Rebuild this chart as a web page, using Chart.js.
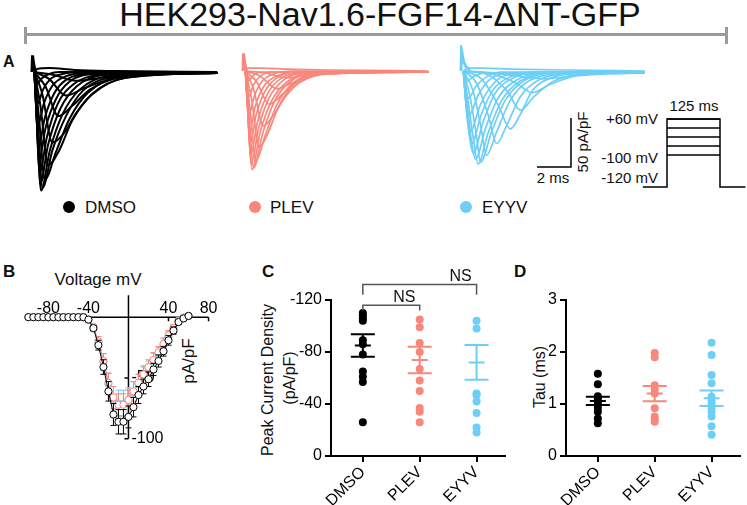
<!DOCTYPE html>
<html>
<head>
<meta charset="utf-8">
<title>HEK293-Nav1.6-FGF14-ΔNT-GFP</title>
<script src="https://cdn.jsdelivr.net/npm/chart.js@4.4.1/dist/chart.umd.min.js"></script>
<style>
  html, body { margin: 0; padding: 0; background: #fff; }
  #fig { position: relative; width: 747px; height: 505px; overflow: hidden; font-family: "Liberation Sans", Arial, sans-serif; color: #111; }
  .box { position: absolute; }
  .txt { position: absolute; white-space: nowrap; line-height: 1; }
  .rot { transform: translate(-50%, -50%) rotate(-90deg); }
  .right { transform: translateX(-100%); }
  .center { transform: translateX(-50%); }
  .dot { position: absolute; width: 12px; height: 12px; border-radius: 50%; }
  .panel { font-weight: bold; font-size: 17px; }
</style>
</head>
<body>
<div id="fig">
  <div class="txt center" style="left:380px;top:-3px;font-size:34px;">HEK293-Nav1.6-FGF14-ΔNT-GFP</div>
  <div class="box" style="left:25px;top:33px;width:702px;height:3px;background:#9a9a9a"></div>
  <div class="box" style="left:24px;top:27px;width:3px;height:17px;background:#9a9a9a"></div>
  <div class="box" style="left:725px;top:27px;width:3px;height:17px;background:#9a9a9a"></div>

  <div class="txt panel" style="left:3px;top:54px;font-size:16px;">A</div>
  <div class="txt panel" style="left:3px;top:263px;">B</div>
  <div class="txt panel" style="left:262px;top:263px;">C</div>
  <div class="txt panel" style="left:514px;top:263px;">D</div>

  <div class="dot" style="left:63px;top:201px;background:#000"></div>
  <div class="txt" style="left:85px;top:199px;font-size:17px;">DMSO</div>
  <div class="dot" style="left:249px;top:201px;background:#F8877C"></div>
  <div class="txt" style="left:270px;top:199px;font-size:17px;">PLEV</div>
  <div class="dot" style="left:460px;top:201px;background:#6DCFF6"></div>
  <div class="txt" style="left:482px;top:199px;font-size:17px;">EYYV</div>

  <div class="txt center" style="left:553px;top:170px;font-size:15px;">2 ms</div>
  <div class="txt rot" style="left:582px;top:142px;font-size:15px;">50 pA/pF</div>

  <div class="txt right" style="left:658px;top:111px;font-size:15px;">+60 mV</div>
  <div class="txt right" style="left:658px;top:150px;font-size:15px;">-100 mV</div>
  <div class="txt right" style="left:658px;top:170px;font-size:15px;">-120 mV</div>
  <div class="txt center" style="left:694px;top:98px;font-size:15px;">125 ms</div>

  <div class="txt center" style="left:98px;top:271px;font-size:17px;">Voltage mV</div>
  <div class="txt rot" style="left:188px;top:361px;font-size:17px;">pA/pF</div>

  <div class="txt rot" style="left:268px;top:380px;font-size:16px;">Peak Current Density</div>
  <div class="txt rot" style="left:290px;top:378px;font-size:16px;">(pA/pF)</div>
  <div class="txt rot" style="left:540px;top:377px;font-size:16px;">Tau (ms)</div>
</div>

<script>
// ---------- panel A: example current traces, [time ms, current pA/pF] ----------
const TRACE_DMSO = [
  [[0.14,0],[1.3,-3],[2.6,-9],[4.0,-6],[6.5,-2],[10.9,-1]],
  [[0.14,0],[1.0,-7],[2.0,-24],[3.0,-17],[4.3,-9],[6.5,-2],[10.9,-1]],
  [[0.14,0],[0.8,-15],[1.55,-45],[2.4,-34],[3.4,-18],[5,-6],[7.5,-1],[10.9,-1]],
  [[0.14,0],[0.6,-22],[1.2,-72],[1.9,-62],[2.6,-42],[3.6,-22],[5.5,-6],[10.9,-1]],
  [[0.14,0],[0.5,-35],[0.95,-95],[1.6,-80],[2.35,-50],[3.5,-23],[5.5,-6],[10.9,-1]],
  [[0.14,0],[0.42,-48],[0.75,-110],[1.4,-82],[2.2,-48],[3.3,-21],[5.2,-5],[10.9,-1]],
  [[0.14,0],[0.36,-55],[0.62,-118],[1.2,-80],[2.0,-45],[3.0,-19],[4.9,-5],[10.9,-1]],
  [[0.14,0],[0.32,-60],[0.53,-121],[1.05,-80],[1.8,-43],[2.8,-18],[4.6,-4],[10.9,-1]],
  [[0.14,0],[0.3,-55],[0.48,-114],[0.95,-74],[1.65,-38],[2.6,-15],[4.3,-3],[10.9,-1]],
  [[0.14,0],[0.28,-50],[0.44,-103],[0.88,-66],[1.5,-33],[2.4,-13],[4.0,-3],[10.9,-1]],
  [[0.14,0],[0.27,-44],[0.41,-90],[0.8,-57],[1.4,-28],[2.2,-10],[3.8,-2],[10.9,-1]],
  [[0.14,0],[0.26,-37],[0.38,-76],[0.75,-47],[1.3,-22],[2.0,-8],[3.5,-2],[10.9,-1]],
  [[0.14,0],[0.25,-26],[0.35,-54],[0.7,-32],[1.2,-14],[1.9,-5],[3.2,-1],[10.9,-1]],
  [[0.14,0],[0.24,-15],[0.33,-32],[0.65,-18],[1.1,-7],[1.8,-2],[3.0,0],[10.9,-1]],
  [[0.14,0],[0.23,-5],[0.31,-12],[0.6,-6],[1.0,-2],[1.6,0],[10.9,-1]],
  [[0.14,0],[0.3,3],[1.0,4],[2.5,2],[5,1],[10.9,0]]
];
const TRACE_PLEV = [
  [[0.14,0],[1.3,-2],[2.6,-7],[3.8,-4],[6,-1],[10.9,-1]],
  [[0.14,0],[1.0,-5],[2.0,-18],[2.9,-12],[4.0,-5],[6,-1],[10.9,-1]],
  [[0.14,0],[0.8,-11],[1.55,-34],[2.3,-24],[3.2,-11],[4.6,-3],[10.9,-1]],
  [[0.14,0],[0.6,-17],[1.2,-56],[1.8,-45],[2.5,-26],[3.4,-11],[5,-3],[10.9,-1]],
  [[0.14,0],[0.5,-28],[0.95,-78],[1.5,-62],[2.1,-36],[3.0,-14],[4.5,-3],[10.9,-1]],
  [[0.14,0],[0.42,-40],[0.75,-92],[1.3,-66],[2.0,-34],[2.9,-13],[4.3,-3],[10.9,-1]],
  [[0.14,0],[0.36,-48],[0.62,-99],[1.15,-64],[1.85,-31],[2.7,-12],[4.1,-2],[10.9,-1]],
  [[0.14,0],[0.32,-50],[0.53,-101],[1.0,-63],[1.7,-30],[2.6,-11],[4.0,-2],[10.9,-1]],
  [[0.14,0],[0.3,-46],[0.48,-95],[0.92,-58],[1.55,-27],[2.4,-9],[3.8,-2],[10.9,-1]],
  [[0.14,0],[0.28,-42],[0.44,-86],[0.85,-52],[1.45,-23],[2.2,-8],[3.6,-2],[10.9,-1]],
  [[0.14,0],[0.27,-36],[0.41,-74],[0.78,-44],[1.35,-19],[2.1,-6],[3.4,-1],[10.9,-1]],
  [[0.14,0],[0.26,-30],[0.38,-62],[0.72,-36],[1.25,-15],[2.0,-5],[3.2,-1],[10.9,-1]],
  [[0.14,0],[0.25,-21],[0.35,-44],[0.68,-25],[1.15,-10],[1.8,-3],[3.0,0],[10.9,-1]],
  [[0.14,0],[0.24,-12],[0.33,-26],[0.62,-14],[1.05,-5],[1.7,-1],[10.9,-1]],
  [[0.14,0],[0.23,-4],[0.31,-10],[0.58,-5],[1.0,-1],[10.9,-1]],
  [[0.14,0],[0.3,3],[1.0,3],[2.5,2],[5,1],[10.9,0]]
];
const TRACE_EYYV = [
  [[0.14,0],[2.0,-2],[5.0,-8],[6.5,-5],[8.5,-2],[10.8,-1]],
  [[0.14,0],[1.8,-3],[3.2,-12],[4.2,-22],[5.2,-14],[6.8,-5],[10.8,-2]],
  [[0.14,0],[1.6,-4],[2.7,-20],[3.5,-40],[4.3,-26],[5.5,-10],[7.5,-3],[10.8,-2]],
  [[0.14,0],[1.2,-8],[2.2,-35],[2.9,-59],[3.5,-44],[4.2,-20],[5.3,-7],[7.5,-2],[10.8,-2]],
  [[0.14,0],[0.9,-12],[1.6,-45],[2.1,-74],[2.7,-55],[3.5,-26],[4.6,-9],[6.5,-3],[10.8,-2]],
  [[0.14,0],[0.7,-20],[1.15,-55],[1.5,-86],[2.1,-62],[2.9,-30],[4.0,-10],[6,-3],[10.8,-1]],
  [[0.14,0],[0.55,-28],[0.9,-65],[1.15,-93],[1.8,-62],[2.6,-30],[3.7,-10],[5.6,-2],[10.8,-1]],
  [[0.14,0],[0.45,-35],[0.75,-72],[1.0,-95],[1.6,-63],[2.4,-30],[3.5,-10],[5.3,-2],[10.8,-1]],
  [[0.14,0],[0.4,-40],[0.65,-76],[0.85,-90],[1.45,-58],[2.2,-27],[3.3,-9],[5,-2],[10.8,-1]],
  [[0.14,0],[0.35,-42],[0.55,-72],[0.72,-84],[1.3,-52],[2.0,-23],[3.1,-7],[4.8,-1],[10.8,-1]],
  [[0.14,0],[0.32,-40],[0.48,-64],[0.62,-74],[1.2,-44],[1.9,-19],[2.9,-6],[4.5,-1],[10.8,-1]],
  [[0.14,0],[0.3,-36],[0.43,-54],[0.55,-62],[1.1,-36],[1.8,-15],[2.8,-4],[10.8,-1]],
  [[0.14,0],[0.28,-28],[0.4,-40],[0.48,-45],[1.0,-25],[1.6,-10],[2.6,-3],[10.8,-1]],
  [[0.14,0],[0.26,-18],[0.36,-25],[0.42,-28],[0.9,-15],[1.5,-6],[2.4,-1],[10.8,-1]],
  [[0.14,0],[0.24,-6],[0.32,-9],[0.38,-10],[0.8,-5],[1.4,-2],[10.8,-1]],
  [[0.14,0],[0.4,3],[1.2,3],[3,2],[6,1],[10.8,0]]
];
// capacitive transient at the start of each sweep
const SPIKE_DMSO = [[0,0],[0.03,17],[0.1,8],[0.2,0]];
const SPIKE_PLEV = [[0,0],[0.03,18],[0.1,8],[0.2,0]];
const SPIKE_EYYV = [[0,0],[0.03,21],[0.15,10],[0.3,4],[0.55,1]];
const SCALE_BAR_MS = 2;
const SCALE_BAR_PA = 50;

// voltage protocol (mV, ms)
const PROTOCOL_HOLD = -120;
const PROTOCOL_STEPS = [-100, -60, -20, 20, 60];
const PROTOCOL_MS = 125;

// ---------- panel B: I-V relationship ----------
const IV_VOLTAGE = [-100,-95,-90,-85,-80,-75,-70,-65,-60,-55,-50,-45,-40,-35,-30,-25,-20,-15,-10,-5,0,5,10,15,20,25,30,35,40,45,50,55,60];
const IV_DMSO = [0,0,0,0,0,0,0,0,0,0,0,0,-2,-9,-23,-41,-61,-80,-86,-86,-82,-74,-64,-57,-51,-43,-36,-28,-19,-11,-4,-1,1];
const IV_DMSO_SEM = [0,0,0,0,0,0,0,0,0,0,0,0,1,2,4,6,8,9,10,10,9,8,7,6,6,5,5,4,4,3,2,1,1];
const IV_PLEV = [0,0,0,0,0,0,0,0,0,0,0,0,-2,-8,-20,-36,-54,-66,-72,-72,-68,-61,-54,-47,-41,-35,-29,-22,-15,-9,-3,-1,1];
const IV_PLEV_SEM = [0,0,0,0,0,0,0,0,0,0,0,0,1,2,4,6,8,9,9,9,8,8,7,7,6,6,5,5,4,3,2,1,1];
const IV_EYYV = [0,0,0,0,0,0,0,0,0,0,0,0,-2,-9,-21,-37,-55,-67,-71,-71,-68,-62,-55,-48,-42,-36,-30,-23,-16,-9,-3,0,1];
const IV_EYYV_SEM = [0,0,0,0,0,0,0,0,0,0,0,0,1,3,5,7,9,10,11,11,10,9,8,7,6,6,5,5,4,3,2,1,1];
const IV_X_TICKS = [-80, -40, 40, 80];
const IV_Y_TICKS = [-50, -100];
const IV_AXIS_X = [-100, 80];
const IV_AXIS_Y = [-100, 18];

// ---------- panels C and D: per-cell values ----------
const GROUPS = ['DMSO', 'PLEV', 'EYYV'];
const PEAK_DMSO = [-110, -108, -106, -104, -89, -86, -78, -65, -61, -57, -26];
const PEAK_PLEV = [-105, -99, -87, -80, -67, -58, -50, -37, -34, -26];
const PEAK_EYYV = [-104, -98, -48, -47, -42, -33, -22, -18];
const PEAK_MEAN = [-85, -73.9, -72];
const PEAK_SEM = [8.6, 10.2, 13.4];
const PEAK_TICKS = [0, -40, -80, -120];
const BRACKET_PAIRS = [[0, 1], [0, 2]];
const BRACKET_LABELS = ['NS', 'NS'];

const TAU_DMSO = [1.58, 1.38, 1.15, 1.1, 1.05, 1.0, 0.93, 0.85, 0.72, 0.63];
const TAU_PLEV = [1.98, 1.9, 1.36, 1.28, 1.2, 0.92, 0.76, 0.7, 0.66];
const TAU_EYYV = [2.18, 1.94, 1.56, 1.4, 1.14, 1.05, 0.98, 0.92, 0.85, 0.76, 0.57, 0.41];
const TAU_MEAN = [1.06, 1.2, 1.11];
const TAU_SEM = [0.08, 0.145, 0.15];
const TAU_TICKS = [0, 1, 2, 3];

// ---------- drawing ----------
const FONT = '"Liberation Sans", Arial, sans-serif';
Chart.defaults.font.family = FONT;
Chart.defaults.color = '#000';
const BLACK = '#000000', PINK = '#F8877C', BLUE = '#6DCFF6';
const GROUP_COLORS = [BLACK, PINK, BLUE];

function makeCanvas(box) {
  const wrap = document.createElement('div');
  wrap.className = 'box';
  wrap.style.left = box.left + 'px';
  wrap.style.top = box.top + 'px';
  wrap.style.width = box.width + 'px';
  wrap.style.height = box.height + 'px';
  const cv = document.createElement('canvas');
  wrap.appendChild(cv);
  document.getElementById('fig').appendChild(wrap);
  return cv;
}

const quiet = { legend: { display: false }, tooltip: { enabled: false } };

// trace panels: 17 px per ms, 0.98 px per pA/pF
const MS_PX = 17, PA_PX = 0.98;
function traceChart(box, t0x, baseY, traces, spike, color, width, extra) {
  const datasets = traces.map(tr => ({
    data: tr, borderColor: color, borderWidth: width, pointRadius: 0,
    cubicInterpolationMode: 'monotone', clip: false
  }));
  datasets.push({ data: spike, borderColor: color, borderWidth: 3, pointRadius: 0, clip: false });
  (extra || []).forEach(d => datasets.push(d));
  return new Chart(makeCanvas(box), {
    type: 'line',
    data: { datasets },
    options: {
      animation: false, responsive: true, maintainAspectRatio: false,
      layout: { padding: 0 }, plugins: quiet,
      scales: {
        x: { type: 'linear', display: false, min: (box.left - t0x) / MS_PX, max: (box.left + box.width - t0x) / MS_PX },
        y: { type: 'linear', display: false, min: -(box.top + box.height - baseY) / PA_PX, max: (baseY - box.top) / PA_PX }
      }
    }
  });
}

traceChart({ left: 24, top: 45, width: 200, height: 155 }, 32, 72, TRACE_DMSO, SPIKE_DMSO, BLACK, 2);
traceChart({ left: 235, top: 45, width: 200, height: 155 }, 243, 71, TRACE_PLEV, SPIKE_PLEV, PINK, 1.7);
// scale bar sits in the EYYV trace frame, corner at 6.47 ms / -98 pA/pF
const barT = 6.47, barI = -98;
traceChart({ left: 453, top: 45, width: 200, height: 140 }, 461, 71, TRACE_EYYV, SPIKE_EYYV, BLUE, 1.7, [{
  data: [[barT - SCALE_BAR_MS, barI], [barT, barI], [barT, barI + SCALE_BAR_PA]],
  borderColor: '#000', borderWidth: 1.5, pointRadius: 0, clip: false
}]);

// voltage protocol: steps on one axis, holding outline on another
(function () {
  const box = { left: 635, top: 105, width: 112, height: 90 };
  const msPx = 53 / PROTOCOL_MS;
  const top = PROTOCOL_STEPS[PROTOCOL_STEPS.length - 1];
  const stepPx = 36 / (top - PROTOCOL_STEPS[0]);
  const holdPx = 68 / (top - PROTOCOL_HOLD);
  const line = { borderColor: '#000', borderWidth: 1.5, pointRadius: 0, clip: false, tension: 0 };
  const datasets = PROTOCOL_STEPS.map(v => Object.assign({ data: [[0, v], [PROTOCOL_MS, v]], yAxisID: 'yStep' }, line));
  datasets.push(Object.assign({
    data: [[-57, PROTOCOL_HOLD], [0, PROTOCOL_HOLD], [0, top], [PROTOCOL_MS, top], [PROTOCOL_MS, PROTOCOL_HOLD], [185, PROTOCOL_HOLD]],
    yAxisID: 'yHold'
  }, line));
  new Chart(makeCanvas(box), {
    type: 'line',
    data: { datasets },
    options: {
      animation: false, responsive: true, maintainAspectRatio: false,
      layout: { padding: 0 }, plugins: quiet,
      scales: {
        x: { type: 'linear', display: false, min: (box.left - 667) / msPx, max: (box.left + box.width - 667) / msPx },
        yStep: { type: 'linear', display: false, min: top - (box.top + box.height - 119) / stepPx, max: top + (119 - box.top) / stepPx },
        yHold: { type: 'linear', display: false, min: top - (box.top + box.height - 119) / holdPx, max: top + (119 - box.top) / holdPx }
      }
    }
  });
})();

// ---------- panel B ----------
const errorBars = {
  id: 'errorBars',
  beforeDatasetDraw(chart, args) {
    const ds = chart.data.datasets[args.index];
    if (!ds.sem) return;
    const { ctx, scales: { x, y } } = chart;
    ctx.save();
    ctx.strokeStyle = ds.borderColor;
    ctx.lineWidth = 1;
    ctx.beginPath();
    ds.data.forEach((p, i) => {
      const s = ds.sem[i];
      if (!s) return;
      const px = x.getPixelForValue(p.x);
      const y1 = y.getPixelForValue(p.y - s), y2 = y.getPixelForValue(p.y + s);
      ctx.moveTo(px, y1); ctx.lineTo(px, y2);
      ctx.moveTo(px - 3, y1); ctx.lineTo(px + 3, y1);
      ctx.moveTo(px - 3, y2); ctx.lineTo(px + 3, y2);
    });
    ctx.stroke();
    ctx.restore();
  }
};
const ivAxes = {
  id: 'ivAxes',
  beforeDatasetsDraw(chart) {
    const { ctx, scales: { x, y } } = chart;
    const x0 = x.getPixelForValue(0), y0 = y.getPixelForValue(0);
    ctx.save();
    ctx.strokeStyle = '#000';
    ctx.lineWidth = 1.5;
    ctx.beginPath();
    ctx.moveTo(x.getPixelForValue(IV_AXIS_X[0]), y0); ctx.lineTo(x.getPixelForValue(IV_AXIS_X[1]), y0);
    ctx.moveTo(x0, y.getPixelForValue(IV_AXIS_Y[1])); ctx.lineTo(x0, y.getPixelForValue(IV_AXIS_Y[0]));
    IV_X_TICKS.forEach(v => { const px = x.getPixelForValue(v); ctx.moveTo(px, y0); ctx.lineTo(px, y0 + 4); });
    IV_Y_TICKS.forEach(v => { const py = y.getPixelForValue(v); ctx.moveTo(x0 - 4, py); ctx.lineTo(x0, py); });
    ctx.stroke();
    ctx.fillStyle = '#000';
    ctx.font = '16px ' + FONT;
    ctx.textAlign = 'center';
    ctx.textBaseline = 'alphabetic';
    IV_X_TICKS.forEach(v => ctx.fillText(String(v), x.getPixelForValue(v), y0 - 4));
    ctx.textAlign = 'left';
    ctx.textBaseline = 'middle';
    IV_Y_TICKS.forEach(v => ctx.fillText(String(v), x0 + 3, y.getPixelForValue(v)));
    ctx.restore();
  }
};

(function () {
  const box = { left: 10, top: 282, width: 215, height: 175 };
  const vPx = 1.05, iPx = 1.29, ox = 129, oy = 314;
  const series = (vals, sem, color) => ({
    data: IV_VOLTAGE.map((v, i) => ({ x: v, y: vals[i] })), sem,
    borderColor: color, borderWidth: 1, pointRadius: 3.6, pointBorderWidth: 1,
    pointBorderColor: color, pointBackgroundColor: '#fff', showLine: true, tension: 0, clip: false
  });
  new Chart(makeCanvas(box), {
    type: 'line',
    data: { datasets: [series(IV_DMSO, IV_DMSO_SEM, BLACK), series(IV_PLEV, IV_PLEV_SEM, PINK), series(IV_EYYV, IV_EYYV_SEM, BLUE)] },
    options: {
      animation: false, responsive: true, maintainAspectRatio: false,
      layout: { padding: 0 }, plugins: quiet,
      scales: {
        x: { type: 'linear', display: false, min: (box.left - ox) / vPx, max: (box.left + box.width - ox) / vPx },
        y: { type: 'linear', display: false, min: -(box.top + box.height - oy) / iPx, max: (oy - box.top) / iPx }
      }
    },
    plugins: [ivAxes, errorBars]
  });
})();

// ---------- panels C and D ----------
function meanSemPlugin(mean, sem) {
  return {
    id: 'meanSem',
    afterDatasetsDraw(chart) {
      const { ctx, scales: { x, y } } = chart;
      ctx.save();
      ctx.lineWidth = 2;
      mean.forEach((m, i) => {
        const cx = x.getPixelForValue(i + 1);
        const yT = y.getPixelForValue(m + sem[i]), yM = y.getPixelForValue(m), yB = y.getPixelForValue(m - sem[i]);
        ctx.strokeStyle = GROUP_COLORS[i];
        ctx.beginPath();
        ctx.moveTo(cx, yT); ctx.lineTo(cx, yB);
        ctx.moveTo(cx - 12, yT); ctx.lineTo(cx + 12, yT);
        ctx.moveTo(cx - 12, yB); ctx.lineTo(cx + 12, yB);
        ctx.moveTo(cx - 8, yM); ctx.lineTo(cx + 8, yM);
        ctx.stroke();
      });
      ctx.restore();
    }
  };
}
const brackets = {
  id: 'brackets',
  afterDraw(chart) {
    const { ctx, scales: { x, y } } = chart;
    const levels = [[-116, -112], [-132, -124]];
    const labelAt = [0.73, 0.86];
    ctx.save();
    ctx.strokeStyle = '#555';
    ctx.lineWidth = 1.5;
    ctx.fillStyle = '#111';
    ctx.font = '16px ' + FONT;
    ctx.textAlign = 'center';
    ctx.textBaseline = 'alphabetic';
    BRACKET_PAIRS.forEach((pair, k) => {
      const xa = x.getPixelForValue(pair[0] + 1), xb = x.getPixelForValue(pair[1] + 1);
      const yl = y.getPixelForValue(levels[k][0]), yd = y.getPixelForValue(levels[k][1]);
      ctx.beginPath();
      ctx.moveTo(xa, yd); ctx.lineTo(xa, yl); ctx.lineTo(xb, yl); ctx.lineTo(xb, yd);
      ctx.stroke();
      ctx.fillText(BRACKET_LABELS[k], xa + (xb - xa) * labelAt[k], yl - 3);
    });
    ctx.restore();
  }
};

function dotChart(box, yAxisWidth, padRight, groups, ticks, yMin, yMax, reverse, mean, sem, extraPlugins) {
  const datasets = groups.map((vals, i) => ({
    data: vals.map(v => ({ x: i + 1, y: v })),
    pointRadius: 4, pointHoverRadius: 4, borderWidth: 0,
    backgroundColor: GROUP_COLORS[i], borderColor: GROUP_COLORS[i], clip: false
  }));
  const axisLook = {
    grid: { display: true, drawOnChartArea: false, drawTicks: true, tickLength: 6, color: '#000', lineWidth: 2 },
    border: { display: true, color: '#000', width: 2 }
  };
  new Chart(makeCanvas(box), {
    type: 'scatter',
    data: { datasets },
    options: {
      animation: false, responsive: true, maintainAspectRatio: false,
      layout: { padding: { top: 300 - box.top, right: padRight, left: 0, bottom: 0 } },
      plugins: quiet,
      scales: {
        x: Object.assign({
          type: 'linear', min: 0.44, max: 3.5,
          afterBuildTicks: ax => { ax.ticks = [1, 2, 3].map(v => ({ value: v })); },
          afterFit: ax => { ax.height = box.top + box.height - 456; },
          ticks: { callback: v => GROUPS[v - 1], minRotation: 45, maxRotation: 45, autoSkip: false, padding: 1, font: { size: 16 }, color: '#000' }
        }, axisLook),
        y: Object.assign({
          type: 'linear', min: yMin, max: yMax, reverse,
          afterBuildTicks: ax => { ax.ticks = ticks.map(v => ({ value: v })); },
          afterFit: ax => { ax.width = yAxisWidth; },
          ticks: { padding: 3, font: { size: 16 }, color: '#000' }
        }, axisLook)
      }
    },
    plugins: [meanSemPlugin(mean, sem)].concat(extraPlugins)
  });
}

dotChart({ left: 250, top: 262, width: 262, height: 243 }, 81, 7,
  [PEAK_DMSO, PEAK_PLEV, PEAK_EYYV], PEAK_TICKS, -120, 0, true, PEAK_MEAN, PEAK_SEM, [brackets]);
dotChart({ left: 518, top: 262, width: 229, height: 243 }, 48, 7,
  [TAU_DMSO, TAU_PLEV, TAU_EYYV], TAU_TICKS, 0, 3, false, TAU_MEAN, TAU_SEM, []);
</script>
</body>
</html>
